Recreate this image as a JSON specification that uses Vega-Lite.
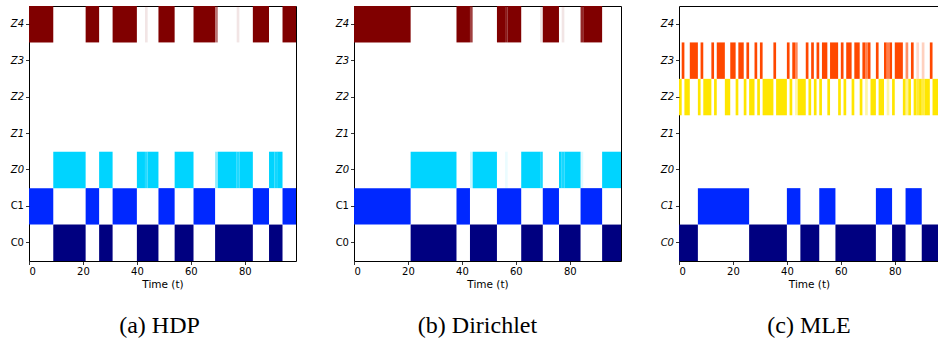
{
  "$schema": "https://vega.github.io/schema/vega-lite/v6.json",
  "padding": {"left": 3, "top": 5, "right": 0, "bottom": 0},
  "background": "white",
  "config": {
    "view": {"stroke": "black", "strokeWidth": 1},
    "concat": {"spacing": 31},
    "axis": {"domain": false, "grid": false, "tickColor": "black", "tickSize": 3.5, "tickWidth": 0.8, "labelFont": "DejaVu Sans", "labelFontSize": 10, "labelColor": "black", "labelPadding": 2, "titleFont": "DejaVu Sans", "titleFontSize": 10.5, "titleFontWeight": "normal", "titleColor": "black"},
    "title": {"font": "Liberation Serif", "fontSize": 24, "fontWeight": "normal", "color": "black", "orient": "bottom", "anchor": "middle", "offset": 24}
  },
  "datasets": {
    "a": [
      {"row": "C0", "t0": 9, "t1": 21, "op": 1}, {"row": "C0", "t0": 26, "t1": 31, "op": 1}, {"row": "C0", "t0": 40, "t1": 48, "op": 1}, {"row": "C0", "t0": 54, "t1": 61, "op": 1}, {"row": "C0", "t0": 69, "t1": 83, "op": 1}, {"row": "C0", "t0": 89, "t1": 94, "op": 1},
      {"row": "C1", "t0": 0, "t1": 9, "op": 1}, {"row": "C1", "t0": 21, "t1": 26, "op": 1}, {"row": "C1", "t0": 31, "t1": 40, "op": 1}, {"row": "C1", "t0": 48, "t1": 54, "op": 1}, {"row": "C1", "t0": 61, "t1": 69, "op": 1}, {"row": "C1", "t0": 83, "t1": 89, "op": 1}, {"row": "C1", "t0": 94, "t1": 99, "op": 1},
      {"row": "Z0", "t0": 9, "t1": 21, "op": 1}, {"row": "Z0", "t0": 26, "t1": 31, "op": 1}, {"row": "Z0", "t0": 40, "t1": 43, "op": 1}, {"row": "Z0", "t0": 43, "t1": 44, "op": 0.85}, {"row": "Z0", "t0": 44, "t1": 48, "op": 1}, {"row": "Z0", "t0": 54, "t1": 61, "op": 1}, {"row": "Z0", "t0": 69, "t1": 70, "op": 0.45}, {"row": "Z0", "t0": 70, "t1": 77, "op": 1}, {"row": "Z0", "t0": 77, "t1": 78, "op": 0.88}, {"row": "Z0", "t0": 78, "t1": 83, "op": 1}, {"row": "Z0", "t0": 89, "t1": 91, "op": 1}, {"row": "Z0", "t0": 91, "t1": 92, "op": 0.93}, {"row": "Z0", "t0": 92, "t1": 94, "op": 1},
      {"row": "Z4", "t0": 0, "t1": 9, "op": 1}, {"row": "Z4", "t0": 21, "t1": 26, "op": 1}, {"row": "Z4", "t0": 31, "t1": 40, "op": 1}, {"row": "Z4", "t0": 43, "t1": 44, "op": 0.1}, {"row": "Z4", "t0": 48, "t1": 54, "op": 1}, {"row": "Z4", "t0": 61, "t1": 69, "op": 1}, {"row": "Z4", "t0": 69, "t1": 70, "op": 0.55}, {"row": "Z4", "t0": 77, "t1": 78, "op": 0.1}, {"row": "Z4", "t0": 83, "t1": 89, "op": 1}, {"row": "Z4", "t0": 94, "t1": 99, "op": 1}
    ],
    "b": [
      {"row": "C0", "t0": 21, "t1": 38, "op": 1}, {"row": "C0", "t0": 43, "t1": 53, "op": 1}, {"row": "C0", "t0": 62, "t1": 70, "op": 1}, {"row": "C0", "t0": 76, "t1": 84, "op": 1}, {"row": "C0", "t0": 92, "t1": 99, "op": 1},
      {"row": "C1", "t0": 0, "t1": 21, "op": 1}, {"row": "C1", "t0": 38, "t1": 43, "op": 1}, {"row": "C1", "t0": 53, "t1": 62, "op": 1}, {"row": "C1", "t0": 70, "t1": 76, "op": 1}, {"row": "C1", "t0": 84, "t1": 92, "op": 1},
      {"row": "Z0", "t0": 21, "t1": 38, "op": 1}, {"row": "Z0", "t0": 43, "t1": 44, "op": 0.2}, {"row": "Z0", "t0": 44, "t1": 53, "op": 1}, {"row": "Z0", "t0": 56, "t1": 57, "op": 0.08}, {"row": "Z0", "t0": 62, "t1": 69, "op": 1}, {"row": "Z0", "t0": 69, "t1": 70, "op": 0.9}, {"row": "Z0", "t0": 76, "t1": 77, "op": 1}, {"row": "Z0", "t0": 77, "t1": 78, "op": 0.9}, {"row": "Z0", "t0": 78, "t1": 84, "op": 1}, {"row": "Z0", "t0": 84, "t1": 85, "op": 0.12}, {"row": "Z0", "t0": 92, "t1": 99, "op": 1},
      {"row": "Z4", "t0": 0, "t1": 21, "op": 1}, {"row": "Z4", "t0": 38, "t1": 43, "op": 1}, {"row": "Z4", "t0": 43, "t1": 44, "op": 0.75}, {"row": "Z4", "t0": 53, "t1": 56, "op": 1}, {"row": "Z4", "t0": 56, "t1": 57, "op": 0.9}, {"row": "Z4", "t0": 57, "t1": 62, "op": 1}, {"row": "Z4", "t0": 69, "t1": 70, "op": 0.1}, {"row": "Z4", "t0": 70, "t1": 76, "op": 1}, {"row": "Z4", "t0": 77, "t1": 78, "op": 0.1}, {"row": "Z4", "t0": 84, "t1": 85, "op": 0.85}, {"row": "Z4", "t0": 85, "t1": 92, "op": 1}
    ],
    "c": [
      {"row": "C0", "t0": 0, "t1": 7, "op": 1}, {"row": "C0", "t0": 26, "t1": 40, "op": 1}, {"row": "C0", "t0": 45, "t1": 52, "op": 1}, {"row": "C0", "t0": 58, "t1": 73, "op": 1}, {"row": "C0", "t0": 79, "t1": 84, "op": 1}, {"row": "C0", "t0": 90, "t1": 99, "op": 1},
      {"row": "C1", "t0": 7, "t1": 26, "op": 1}, {"row": "C1", "t0": 40, "t1": 45, "op": 1}, {"row": "C1", "t0": 52, "t1": 58, "op": 1}, {"row": "C1", "t0": 73, "t1": 79, "op": 1}, {"row": "C1", "t0": 84, "t1": 90, "op": 1},
      {"row": "Z3", "t0": 1, "t1": 2, "op": 1}, {"row": "Z3", "t0": 4, "t1": 7, "op": 1}, {"row": "Z3", "t0": 8, "t1": 9, "op": 1}, {"row": "Z3", "t0": 12, "t1": 13, "op": 1}, {"row": "Z3", "t0": 14, "t1": 17, "op": 1}, {"row": "Z3", "t0": 19, "t1": 21, "op": 1}, {"row": "Z3", "t0": 22, "t1": 24, "op": 1}, {"row": "Z3", "t0": 25, "t1": 26, "op": 1}, {"row": "Z3", "t0": 28, "t1": 29, "op": 1}, {"row": "Z3", "t0": 30, "t1": 31, "op": 1}, {"row": "Z3", "t0": 35, "t1": 36, "op": 1}, {"row": "Z3", "t0": 40, "t1": 41, "op": 1}, {"row": "Z3", "t0": 42, "t1": 43, "op": 1}, {"row": "Z3", "t0": 43, "t1": 44, "op": 0.65}, {"row": "Z3", "t0": 47, "t1": 48, "op": 1}, {"row": "Z3", "t0": 49, "t1": 50, "op": 1}, {"row": "Z3", "t0": 51, "t1": 52, "op": 1}, {"row": "Z3", "t0": 53, "t1": 55, "op": 1}, {"row": "Z3", "t0": 56, "t1": 59, "op": 1}, {"row": "Z3", "t0": 60, "t1": 61, "op": 1}, {"row": "Z3", "t0": 62, "t1": 64, "op": 1}, {"row": "Z3", "t0": 65, "t1": 67, "op": 1}, {"row": "Z3", "t0": 68, "t1": 69, "op": 1}, {"row": "Z3", "t0": 69, "t1": 70, "op": 0.7}, {"row": "Z3", "t0": 70, "t1": 71, "op": 1}, {"row": "Z3", "t0": 73, "t1": 74, "op": 1}, {"row": "Z3", "t0": 76, "t1": 77, "op": 1}, {"row": "Z3", "t0": 77, "t1": 78, "op": 0.7}, {"row": "Z3", "t0": 78, "t1": 79, "op": 1}, {"row": "Z3", "t0": 80, "t1": 83, "op": 1}, {"row": "Z3", "t0": 84, "t1": 85, "op": 0.6}, {"row": "Z3", "t0": 86, "t1": 87, "op": 1}, {"row": "Z3", "t0": 88, "t1": 89, "op": 0.2}, {"row": "Z3", "t0": 90, "t1": 91, "op": 0.25}, {"row": "Z3", "t0": 93, "t1": 94, "op": 1},
      {"row": "Z2", "t0": 0, "t1": 1, "op": 1}, {"row": "Z2", "t0": 2, "t1": 4, "op": 1}, {"row": "Z2", "t0": 7, "t1": 8, "op": 1}, {"row": "Z2", "t0": 9, "t1": 12, "op": 1}, {"row": "Z2", "t0": 13, "t1": 14, "op": 1}, {"row": "Z2", "t0": 17, "t1": 19, "op": 1}, {"row": "Z2", "t0": 21, "t1": 22, "op": 1}, {"row": "Z2", "t0": 24, "t1": 25, "op": 1}, {"row": "Z2", "t0": 26, "t1": 28, "op": 1}, {"row": "Z2", "t0": 29, "t1": 30, "op": 1}, {"row": "Z2", "t0": 31, "t1": 35, "op": 1}, {"row": "Z2", "t0": 36, "t1": 40, "op": 1}, {"row": "Z2", "t0": 41, "t1": 42, "op": 1}, {"row": "Z2", "t0": 43, "t1": 44, "op": 0.3}, {"row": "Z2", "t0": 44, "t1": 47, "op": 1}, {"row": "Z2", "t0": 48, "t1": 49, "op": 1}, {"row": "Z2", "t0": 50, "t1": 51, "op": 1}, {"row": "Z2", "t0": 52, "t1": 53, "op": 1}, {"row": "Z2", "t0": 55, "t1": 56, "op": 1}, {"row": "Z2", "t0": 59, "t1": 60, "op": 1}, {"row": "Z2", "t0": 61, "t1": 62, "op": 1}, {"row": "Z2", "t0": 64, "t1": 65, "op": 1}, {"row": "Z2", "t0": 67, "t1": 68, "op": 1}, {"row": "Z2", "t0": 69, "t1": 70, "op": 0.35}, {"row": "Z2", "t0": 71, "t1": 73, "op": 1}, {"row": "Z2", "t0": 74, "t1": 76, "op": 1}, {"row": "Z2", "t0": 77, "t1": 78, "op": 0.35}, {"row": "Z2", "t0": 79, "t1": 80, "op": 1}, {"row": "Z2", "t0": 83, "t1": 84, "op": 1}, {"row": "Z2", "t0": 84, "t1": 85, "op": 0.45}, {"row": "Z2", "t0": 85, "t1": 86, "op": 1}, {"row": "Z2", "t0": 87, "t1": 88, "op": 1}, {"row": "Z2", "t0": 88, "t1": 89, "op": 0.8}, {"row": "Z2", "t0": 89, "t1": 90, "op": 1}, {"row": "Z2", "t0": 90, "t1": 91, "op": 0.75}, {"row": "Z2", "t0": 91, "t1": 93, "op": 1}, {"row": "Z2", "t0": 94, "t1": 99, "op": 1}
    ]
  },
  "hconcat": [
    {
      "width": 267, "height": 255,
      "data": {"name": "a"},
      "title": {"text": "(a) HDP", "dx": -3},
      "mark": {"type": "rect", "clip": true},
      "encoding": {
        "x": {"field": "t0", "type": "quantitative", "scale": {"domain": [0, 99], "nice": false, "zero": false}, "axis": {"values": [0, 20, 40, 60, 80], "title": "Time (t)", "titlePadding": 3}},
        "x2": {"field": "t1"},
        "y": {"field": "row", "type": "nominal", "sort": ["Z4", "Z3", "Z2", "Z1", "Z0", "C1", "C0"], "scale": {"domain": ["Z4", "Z3", "Z2", "Z1", "Z0", "C1", "C0"], "paddingInner": 0, "paddingOuter": 0}, "axis": {"title": null, "minExtent": 25, "maxExtent": 25, "labelFontStyle": {"condition": {"test": "indexof(datum.label, 'Z') === 0", "value": "italic"}, "value": "normal"}}},
        "color": {"field": "row", "type": "nominal", "scale": {"domain": ["C0", "C1", "Z0", "Z1", "Z2", "Z3", "Z4"], "range": ["#000080", "#0028ff", "#00d4ff", "#7cff79", "#ffe600", "#ff4800", "#800000"]}, "legend": null},
        "opacity": {"field": "op", "type": "quantitative", "scale": null}
      }
    },
    {
      "width": 267, "height": 255,
      "data": {"name": "b"},
      "title": {"text": "(b) Dirichlet", "dx": -10},
      "mark": {"type": "rect", "clip": true},
      "encoding": {
        "x": {"field": "t0", "type": "quantitative", "scale": {"domain": [0, 99], "nice": false, "zero": false}, "axis": {"values": [0, 20, 40, 60, 80], "title": "Time (t)", "titlePadding": 3}},
        "x2": {"field": "t1"},
        "y": {"field": "row", "type": "nominal", "sort": ["Z4", "Z3", "Z2", "Z1", "Z0", "C1", "C0"], "scale": {"domain": ["Z4", "Z3", "Z2", "Z1", "Z0", "C1", "C0"], "paddingInner": 0, "paddingOuter": 0}, "axis": {"title": null, "minExtent": 25, "maxExtent": 25, "labelFontStyle": {"condition": {"test": "indexof(datum.label, 'Z') === 0", "value": "italic"}, "value": "normal"}}},
        "color": {"field": "row", "type": "nominal", "scale": {"domain": ["C0", "C1", "Z0", "Z1", "Z2", "Z3", "Z4"], "range": ["#000080", "#0028ff", "#00d4ff", "#7cff79", "#ffe600", "#ff4800", "#800000"]}, "legend": null},
        "opacity": {"field": "op", "type": "quantitative", "scale": null}
      }
    },
    {
      "width": 260, "height": 255,
      "data": {"name": "c"},
      "title": {"text": "(c) MLE", "dx": 0},
      "mark": {"type": "rect", "clip": true},
      "encoding": {
        "x": {"field": "t0", "type": "quantitative", "scale": {"domain": [0, 96.4], "nice": false, "zero": false}, "axis": {"values": [0, 20, 40, 60, 80], "title": "Time (t)", "titlePadding": 3}},
        "x2": {"field": "t1"},
        "y": {"field": "row", "type": "nominal", "sort": ["Z4", "Z3", "Z2", "Z1", "Z0", "C1", "C0"], "scale": {"domain": ["Z4", "Z3", "Z2", "Z1", "Z0", "C1", "C0"], "paddingInner": 0, "paddingOuter": 0}, "axis": {"title": null, "minExtent": 25, "maxExtent": 25, "labelFontStyle": "italic"}},
        "color": {"field": "row", "type": "nominal", "scale": {"domain": ["C0", "C1", "Z0", "Z1", "Z2", "Z3", "Z4"], "range": ["#000080", "#0028ff", "#00d4ff", "#7cff79", "#ffe600", "#ff4800", "#800000"]}, "legend": null},
        "opacity": {"field": "op", "type": "quantitative", "scale": null}
      }
    }
  ]
}
